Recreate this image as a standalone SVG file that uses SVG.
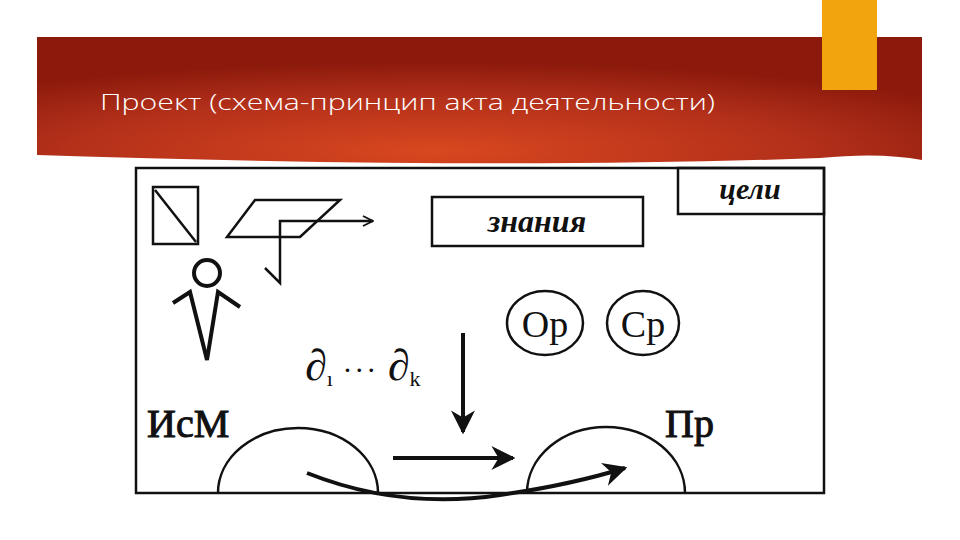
<svg xmlns="http://www.w3.org/2000/svg" width="960" height="540" viewBox="0 0 960 540">
<defs>
<radialGradient id="bg" cx="0.45" cy="0.9" r="0.7">
<stop offset="0" stop-color="#d9471f"/>
<stop offset="0.6" stop-color="#b3301a"/>
<stop offset="1" stop-color="#8c1a0c"/>
</radialGradient>
<marker id="ah" viewBox="0 0 10 10" refX="9" refY="5" markerWidth="6" markerHeight="6" orient="auto"><path d="M0,0 L10,5 L0,10 L3,5 Z" fill="#111"/></marker>
<marker id="oa" viewBox="0 0 10 10" refX="9" refY="5" markerWidth="5" markerHeight="5" orient="auto"><path d="M1,1 L9,5 L1,9" fill="none" stroke="#111" stroke-width="1.5"/></marker>
</defs>
<style>
.ln{fill:none;stroke:#111;stroke-width:2.5}
.th{fill:none;stroke:#111;stroke-width:4}
.ser{font-family:"Liberation Serif",serif;fill:#111}
</style>
<rect width="960" height="540" fill="#fff"/>
<g id="banner">
<path d="M37,37 H922 V160 Q880,152 820,158 Q500,170 37,155 Z" fill="url(#bg)"/>
<rect x="822" y="0" width="55" height="90" fill="#f2a40f"/>
<text x="100" y="110" font-family="'Open Sans','Liberation Sans',sans-serif" font-weight="300" font-size="22" fill="#fff" textLength="615" lengthAdjust="spacingAndGlyphs">Проект (схема-принцип акта деятельности)</text>
</g>
<g id="frame"><rect x="136" y="168" width="688" height="325" class="ln"/></g>
<g id="goals"><rect x="678" y="168" width="146" height="46" class="ln"/><text x="750" y="199" class="ser" font-size="30" font-style="italic" font-weight="bold" text-anchor="middle">цели</text></g>
<g id="knowledge"><rect x="432" y="197" width="211" height="49" class="ln"/><text x="537" y="232" class="ser" font-size="32" font-style="italic" font-weight="bold" text-anchor="middle">знания</text></g>
<g id="or"><ellipse cx="545" cy="323" rx="38" ry="32" class="ln"/><text x="545" y="337" class="ser" font-size="38" text-anchor="middle">Op</text></g>
<g id="sr"><ellipse cx="643" cy="323" rx="36" ry="32" class="ln"/><text x="643" y="337" class="ser" font-size="38" text-anchor="middle">Cp</text></g>
<g id="sign"><rect x="153" y="187" width="45" height="57" class="ln" stroke-width="3"/><line x1="155" y1="190" x2="196" y2="242" class="ln"/></g>
<g id="plane"><path d="M227,237 L255,200 H340 L300,237 Z" class="ln"/><path d="M265,268 L280,283 V221 H373" class="ln" marker-end="url(#oa)"/></g>
<g id="person"><circle cx="207" cy="273" r="13" class="th" stroke-width="3"/><path d="M173,303 L190,292 L207,360 L218,292 L240,307" class="th" stroke-linejoin="miter"/></g>
<g id="ism"><text x="147" y="437" class="ser" font-size="40" stroke="#111" stroke-width="1">ИсМ</text><path d="M218,493 A80,65 0 0 1 378,493" class="ln"/></g>
<g id="pr"><text x="665" y="437" class="ser" font-size="40" stroke="#111" stroke-width="1">Пр</text><path d="M527,493 A79,66 0 0 1 685,493" class="ln"/></g>
<g id="d"><text x="305" y="380" class="ser" font-size="44" font-style="italic">∂<tspan font-size="22" font-style="normal" dy="6">ı</tspan><tspan dy="-6" font-size="30" font-style="normal" letter-spacing="2"> ··· </tspan>∂<tspan font-size="22" font-style="normal" dy="6">k</tspan></text></g>
<g id="connectors">
<line x1="463" y1="333" x2="463" y2="432" class="th" stroke-width="3" marker-end="url(#ah)"/>
<line x1="393" y1="458" x2="513" y2="458" class="th" marker-end="url(#ah)"/>
<path d="M307,473 Q400,510 500,495 Q570,485 625,468" class="th" stroke-width="3" marker-end="url(#ah)"/>
</g>
</svg>
